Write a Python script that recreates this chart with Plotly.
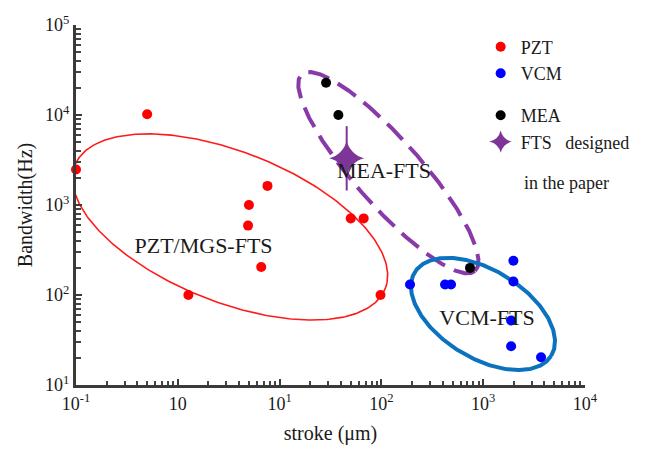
import numpy as np
import plotly.graph_objects as go

# ---------------- data ----------------
pzt_x = [0.1, 0.5, 7.6, 5.0, 4.9, 6.6, 1.27, 50, 67, 98]
pzt_y = [2480, 10200, 1630, 1000, 590, 205, 100, 710, 710, 100]

vcm_x = [191, 422, 483, 1980, 1980, 1880, 1880, 3700]
vcm_y = [131, 131, 131, 240, 141, 52, 27, 20.3]

mea_x = [28.6, 37.8, 742]
mea_y = [22860, 10000, 200]

fts_x = [45.6]
fts_y = [3300]

x_tickvals = [0.1, 1, 10, 100, 1000, 10000]
x_ticktext = ["10<sup>-1</sup>", "10", "10<sup>1</sup>", "10<sup>2</sup>", "10<sup>3</sup>", "10<sup>4</sup>"]
y_tickvals = [10, 100, 1000, 10000, 100000]
y_ticktext = ["10<sup>1</sup>", "10<sup>2</sup>", "10<sup>3</sup>", "10<sup>4</sup>", "10<sup>5</sup>"]

group_labels = ["PZT/MGS-FTS", "MEA-FTS", "VCM-FTS"]
group_label_x = [1.79, 106, 1090]
group_label_y = [333, 2270, 54]

# ellipse outlines: centre (data units), semi-axes (px), rotation (deg, clockwise on screen)
red_ell = dict(cx=3.26, cy=570, a=167, b=75, ang=21.7)
purple_ell = dict(cx=117, cy=2286, a=131, b=33, ang=48.6)
blue_ell = dict(cx=995, cy=61.5, a=80, b=44, ang=31.4)

# ---------------- layout constants ----------------
W, H = 652, 453
ML, MR, MT, MB = 76, 67, 25, 68
X_RANGE = [-1, 4]
Y_RANGE = [1, 5]
PXD_X = (W - ML - MR) / (X_RANGE[1] - X_RANGE[0])
PXD_Y = (H - MT - MB) / (Y_RANGE[1] - Y_RANGE[0])

SERIF = "Liberation Serif, Times New Roman, serif"
TXT = "#1a1a1a"


def ellipse(cx, cy, a, b, ang):
    t = np.linspace(0, 2 * np.pi, 361)
    th = np.radians(ang)
    dx = a * np.cos(t) * np.cos(th) - b * np.sin(t) * np.sin(th)
    dy = a * np.cos(t) * np.sin(th) + b * np.sin(t) * np.cos(th)
    lx = np.log10(cx) + dx / PXD_X
    ly = np.log10(cy) - dy / PXD_Y
    return 10 ** lx, 10 ** ly


def minor_vals(lo, hi):
    return [m * 10.0 ** e for e in range(lo, hi) for m in range(2, 10)]


fig = go.Figure()

for ell, col, wid, dash in [(red_ell, "#ff1a1a", 1.6, "solid"),
                            (purple_ell, "#8a3aa8", 4, "22px,10px"),
                            (blue_ell, "#0a72be", 4, "solid")]:
    ex, ey = ellipse(**ell)
    fig.add_trace(go.Scatter(x=ex, y=ey, mode="lines", showlegend=False, hoverinfo="skip",
                             line=dict(color=col, width=wid, dash=dash), cliponaxis=False))

fig.add_trace(go.Scatter(x=pzt_x, y=pzt_y, mode="markers", name="PZT", legend="legend",
                         marker=dict(color="#ff0000", size=10), cliponaxis=False))
fig.add_trace(go.Scatter(x=vcm_x, y=vcm_y, mode="markers", name="VCM", legend="legend",
                         marker=dict(color="#0000ff", size=10), cliponaxis=False))
fig.add_trace(go.Scatter(x=mea_x, y=mea_y, mode="markers", name="MEA", legend="legend2",
                         marker=dict(color="#000000", size=10), cliponaxis=False))
fig.add_trace(go.Scatter(x=fts_x, y=fts_y, mode="markers", showlegend=False,
                         marker=dict(symbol="line-ns", size=46, color="#7d3598",
                                     line=dict(color="#7d3598", width=2)), cliponaxis=False))
fig.add_trace(go.Scatter(x=fts_x, y=fts_y, mode="markers",
                         name="FTS\u00a0\u00a0\u00a0designed", legend="legend2",
                         marker=dict(symbol="star-diamond", size=25, color="#7d3598"),
                         cliponaxis=False))

fig.add_trace(go.Scatter(x=group_label_x, y=group_label_y, mode="text", text=group_labels,
                         textposition="middle center", showlegend=False, hoverinfo="skip",
                         textfont=dict(family=SERIF, size=22, color=TXT), cliponaxis=False))

axis_common = dict(type="log", showgrid=False, zeroline=False, showline=True,
                   linecolor="#3a3a3a", linewidth=3, ticks="inside", ticklen=6,
                   tickwidth=2, tickcolor="#3a3a3a", tickmode="array",
                   tickfont=dict(family=SERIF, size=18, color=TXT))

minor_common = dict(ticks="inside", ticklen=4.5, tickwidth=1.5, tickcolor="#444",
                    tickmode="array", showgrid=False)

fig.update_layout(
    width=W, height=H,
    margin=dict(l=ML, r=MR, t=MT, b=MB, autoexpand=False),
    paper_bgcolor="white", plot_bgcolor="white",
    xaxis=dict(range=X_RANGE, tickvals=x_tickvals, ticktext=x_ticktext,
               minor=dict(tickvals=minor_vals(-1, 4), **minor_common),
               title=dict(text="stroke (\u03bcm)", font=dict(family=SERIF, size=20, color=TXT), standoff=14),
               **axis_common),
    yaxis=dict(range=Y_RANGE, tickvals=y_tickvals, ticktext=y_ticktext,
               minor=dict(tickvals=minor_vals(1, 5), **minor_common),
               title=dict(text="Bandwidth(Hz)", font=dict(family=SERIF, size=20, color=TXT), standoff=8),
               **axis_common),
    legend=dict(x=0.795, y=0.99, xanchor="left", yanchor="top", bgcolor="rgba(0,0,0,0)",
                font=dict(family=SERIF, size=18, color=TXT), itemwidth=30, tracegroupgap=0),
    legend2=dict(x=0.795, y=0.80, xanchor="left", yanchor="top", bgcolor="rgba(0,0,0,0)",
                 font=dict(family=SERIF, size=18, color=TXT), itemwidth=30, tracegroupgap=0),
    annotations=[dict(text="in the paper", xref="paper", yref="paper", x=0.876, y=0.561,
                      xanchor="left", yanchor="middle", showarrow=False,
                      font=dict(family=SERIF, size=18, color=TXT))],
)

fig.write_html("out.html")
